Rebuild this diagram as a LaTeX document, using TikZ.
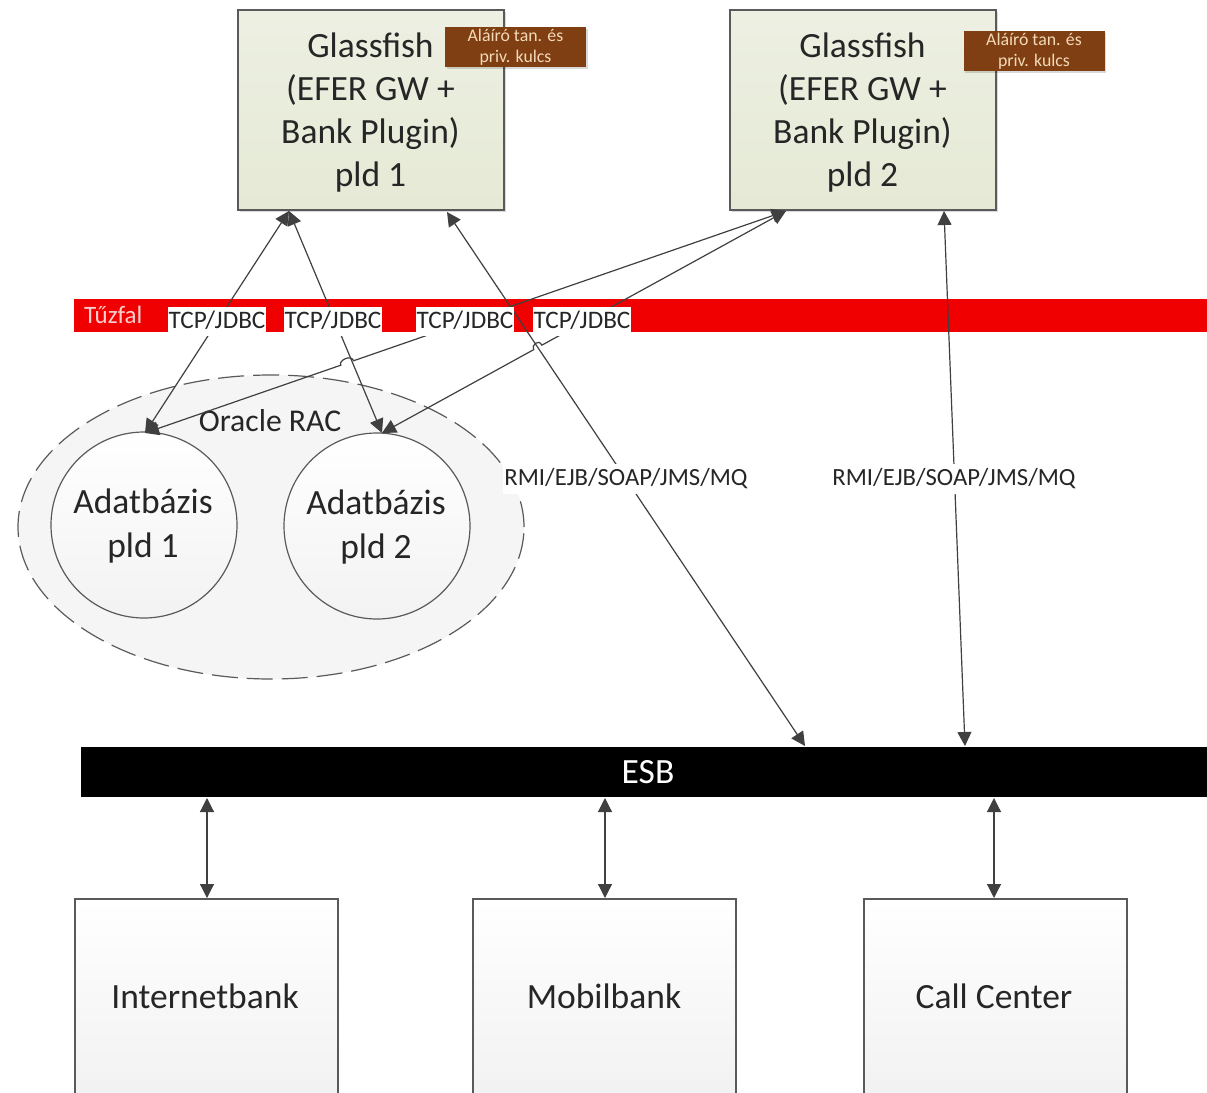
\documentclass[tikz,border=0pt]{standalone}
\usepackage{fontspec}
\setmainfont{Carlito}
\usetikzlibrary{arrows.meta,calc,shadows,shapes.geometric}
\definecolor{linegray}{HTML}{404040}
\definecolor{boxedge}{HTML}{5A5A5A}
\definecolor{brownbox}{HTML}{7F3F12}
\definecolor{fwred}{HTML}{F00000}
\definecolor{gftop}{HTML}{EDF0E2}
\definecolor{gfbot}{HTML}{E5E9D5}
\definecolor{keytext}{HTML}{F3D9B8}
\definecolor{fwtext}{HTML}{FBD0D0}
\definecolor{inktext}{HTML}{262626}
\tikzset{
  x=1pt,y=-1pt,
  every node/.style={inner sep=0pt,outer sep=0pt,text=inktext},
  softshadow/.style={drop shadow={shadow xshift=1.5pt,shadow yshift=-1.5pt,opacity=0.15,fill=black}},
  gfbox/.style={draw=boxedge,line width=1.2pt,minimum width=266pt,minimum height=200pt,top color=gftop,bottom color=gfbot,softshadow},
  gftext/.style={align=center,font=\fontsize{35.5}{43}\selectfont},
  keybox/.style={draw=none,fill=brownbox,minimum width=141pt,minimum height=40pt,softshadow,align=center,text=keytext,font=\fontsize{17.8}{21}\selectfont},
  dbcircle/.style={circle,draw=boxedge,line width=1.2pt,minimum size=186pt,top color=white,bottom color=black!5,align=center,font=\fontsize{35.5}{44}\selectfont},
  channelbox/.style={draw=boxedge,line width=1.2pt,minimum width=263pt,minimum height=220pt,top color=white,bottom color=black!6},
  tcplabel/.style={fill=white,minimum width=98pt,minimum height=29pt,text height=15pt,font=\fontsize{25.2}{28}\selectfont},
  protolabel/.style={fill=white,inner xsep=1pt,inner ysep=5pt,font=\fontsize{24.7}{28}\selectfont},
  conn/.style={draw=linegray,line width=1.2pt,{Triangle[length=14pt,width=14pt]}-{Triangle[length=14pt,width=14pt]}},
}
\begin{document}
\begin{tikzpicture}
\useasboundingbox (0,0) rectangle (1207,1092);
\fill[white] (0,0) rectangle (1207,1092);
% firewall band
\node[fill=fwred,minimum width=1133pt,minimum height=33pt,anchor=north west] (fw) at (74,299) {};
\node[anchor=west,text=fwtext,font=\fontsize{25}{28}\selectfont] (fwlabel) at (84,315) {Tűzfal};
% oracle group
\node[ellipse,draw=boxedge,line width=1.2pt,dash pattern=on 26pt off 9pt,minimum width=506pt,minimum height=304pt,fill=black!4] (rac) at (271,527) {};
\node[font=\fontsize{31.7}{36}\selectfont] (raclabel) at (270,421) {Oracle RAC};
\node[dbcircle] (db1) at (144,525) {};
\node[dbcircle] (db2) at (377,526) {};
\node[align=center,font=\fontsize{35.5}{44}\selectfont] (db1l) at (143,526) {Adatbázis\\pld 1};
\node[align=center,font=\fontsize{35.5}{44}\selectfont] (db2l) at (376,527) {Adatbázis\\pld 2};
% gateways
\node[gfbox] (gf1) at (371,110) {};
\node[gfbox] (gf2) at (863,110) {};
\node[gftext] (gf1l) at (370.5,112.5) {Glassfish\\(EFER GW +\\Bank Plugin)\\pld 1};
\node[gftext] (gf2l) at (862.5,112.5) {Glassfish\\(EFER GW +\\Bank Plugin)\\pld 2};
\node[keybox] (key1) at (515.5,47) {Aláíró tan. és\\priv. kulcs};
\node[keybox] (key2) at (1034,51) {Aláíró tan. és\\priv. kulcs};
% ESB
\node[fill=black,minimum width=1126pt,minimum height=50pt,anchor=north west] (esb) at (81,747) {};
\node[text=white,font=\fontsize{35.5}{38}\selectfont] (esblabel) at (648,772) {ESB};
% channels
\node[channelbox,anchor=north west] (ib) at (75,899) {};
\node[channelbox,anchor=north west] (mb) at (473,899) {};
\node[channelbox,anchor=north west] (cc) at (864,899) {};
\node[font=\fontsize{35.5}{38}\selectfont] (ibl) at (205,996) {Internetbank};
\node[font=\fontsize{35.5}{38}\selectfont] (mbl) at (604,996) {Mobilbank};
\node[font=\fontsize{35.5}{38}\selectfont] (ccl) at (994,996) {Call Center};
% connector ends
\coordinate (gf1a) at (289,211);
\coordinate (gf1b) at (447,212);
\coordinate (gf2a) at (786,211);
\coordinate (gf2b) at (944,211);
\coordinate (db1t) at (145,433);
\coordinate (db2t) at (382,433);
\coordinate (esba) at (805,746);
\coordinate (esbb) at (965,746);
\coordinate (esbc) at (207,798);
\coordinate (esbd) at (605,798);
\coordinate (esbe) at (994,798);
\coordinate (iba) at (207,898);
\coordinate (mba) at (605,898);
\coordinate (cca) at (994,898);
% connectors
\path[conn] (gf1a) -- (db1t);
\path[conn] (gf1a) -- (db2t);
\path[conn] (gf1b) -- (esba);
\path[conn] (gf2b) -- (esbb);
\path[conn] (gf2a) -- ($(gf2a)!0.6745!(db1t)$) .. controls +(-3,-7) and +(-3,-4) .. ($(gf2a)!0.6945!(db1t)$) -- (db1t);
\path[conn] (gf2a) -- ($(gf2a)!0.6045!(db2t)$) .. controls +(-3,-7) and +(-3,-4) .. ($(gf2a)!0.6245!(db2t)$) -- (db2t);
\path[conn] (esbc) -- (iba);
\path[conn] (esbd) -- (mba);
\path[conn] (esbe) -- (cca);
% labels on top of connectors
\node[tcplabel,anchor=north west] (t1) at (168,307) {TCP/JDBC};
\node[tcplabel,anchor=north west] (t2) at (284,307) {TCP/JDBC};
\node[tcplabel,anchor=north west] (t3) at (416,307) {TCP/JDBC};
\node[tcplabel,anchor=north west] (t4) at (533,307) {TCP/JDBC};
\node[protolabel] (p1) at (626,479) {RMI/EJB/SOAP/JMS/MQ};
\node[protolabel] (p2) at (954,479) {RMI/EJB/SOAP/JMS/MQ};
\end{tikzpicture}
\end{document}
